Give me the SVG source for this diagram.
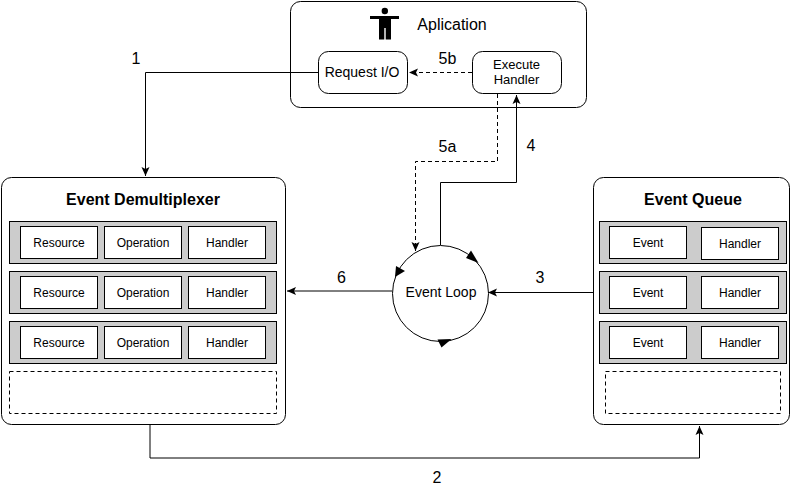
<svg xmlns="http://www.w3.org/2000/svg" width="791" height="492" viewBox="0 0 791 492">
<style>
text{font-family:"Liberation Sans",Arial,Helvetica,sans-serif;fill:#000;text-anchor:middle}
.c{fill:#fff;stroke:#000;stroke-width:1}
.row{fill:#ccc;stroke:#000;stroke-width:1}
.d{fill:#fff;stroke:#000;stroke-width:1;stroke-dasharray:4 3}
.s{font-size:12px}
.e{font-size:13px}
.t{font-size:16px;font-weight:bold}
.n{font-size:16px}
.m{font-size:14px}
.l{fill:none;stroke:#000;stroke-width:1}
.ld{fill:none;stroke:#000;stroke-width:1;stroke-dasharray:4 3}
</style>
<defs>
<marker id="a" markerUnits="userSpaceOnUse" markerWidth="10" markerHeight="10" refX="9" refY="4.500" orient="auto"><path d="M0 0.500L9 4.500L0 8.500L2 4.500Z" fill="#000"/></marker>
</defs>
<g id="application">
<rect class="c" x="290.500" y="1.500" width="296" height="106" rx="10"/>
<circle cx="384.800" cy="11" r="3.200"/>
<path d="M370 16H399V19H391V39.500H385.700V28H384.300V39.500H379V19H370Z"/>
<text class="n" x="452" y="30">Aplication</text>
</g>
<g id="request-io">
<rect class="c" x="318.500" y="51.500" width="89" height="42" rx="10"/>
<text class="m" x="362" y="77">Request I/O</text>
</g>
<g id="execute-handler">
<rect class="c" x="472.500" y="51.500" width="89" height="42" rx="10"/>
<text class="e" x="516.500" y="69">Execute</text>
<text class="e" x="516.500" y="84">Handler</text>
</g>
<g id="event-demultiplexer">
<rect class="c" x="1.500" y="177.500" width="284" height="247" rx="10"/>
<text class="t" x="143" y="205">Event Demultiplexer</text>
<rect class="row" x="9.500" y="221.500" width="267" height="42"/>
<rect class="c" x="20.500" y="226.500" width="77" height="32"/><text class="s" x="59" y="247">Resource</text>
<rect class="c" x="104.500" y="226.500" width="77" height="32"/><text class="s" x="143" y="247">Operation</text>
<rect class="c" x="188.500" y="226.500" width="77" height="32"/><text class="s" x="227" y="247">Handler</text>
<rect class="row" x="9.500" y="271.500" width="267" height="42"/>
<rect class="c" x="20.500" y="276.500" width="77" height="32"/><text class="s" x="59" y="297">Resource</text>
<rect class="c" x="104.500" y="276.500" width="77" height="32"/><text class="s" x="143" y="297">Operation</text>
<rect class="c" x="188.500" y="276.500" width="77" height="32"/><text class="s" x="227" y="297">Handler</text>
<rect class="row" x="9.500" y="321.500" width="267" height="42"/>
<rect class="c" x="20.500" y="326.500" width="77" height="32"/><text class="s" x="59" y="347">Resource</text>
<rect class="c" x="104.500" y="326.500" width="77" height="32"/><text class="s" x="143" y="347">Operation</text>
<rect class="c" x="188.500" y="326.500" width="77" height="32"/><text class="s" x="227" y="347">Handler</text>
<rect class="d" x="9.500" y="371.500" width="267" height="42"/>
</g>
<g id="event-queue">
<rect class="c" x="593.500" y="177.500" width="196" height="247" rx="10"/>
<text class="t" x="693" y="205">Event Queue</text>
<rect class="row" x="599.500" y="221.500" width="187" height="42"/>
<rect class="c" x="609.500" y="226.500" width="77" height="32"/><text class="s" x="648" y="247">Event</text>
<rect class="c" x="701.500" y="227.500" width="77" height="32"/><text class="s" x="740" y="248">Handler</text>
<rect class="row" x="599.500" y="271.500" width="187" height="42"/>
<rect class="c" x="609.500" y="276.500" width="77" height="32"/><text class="s" x="648" y="297">Event</text>
<rect class="c" x="701.500" y="276.500" width="77" height="32"/><text class="s" x="740" y="297">Handler</text>
<rect class="row" x="599.500" y="321.500" width="187" height="42"/>
<rect class="c" x="609.500" y="326.500" width="77" height="32"/><text class="s" x="648" y="347">Event</text>
<rect class="c" x="701.500" y="326.500" width="77" height="32"/><text class="s" x="740" y="347">Handler</text>
<rect class="d" x="605.500" y="371.500" width="175" height="42"/>
</g>
<g id="event-loop">
<circle class="c" cx="440.500" cy="293.500" r="48"/>
<path d="M478.500 263L466 258L471 250.500Z"/>
<path d="M395 277L396 266L405 271Z"/>
<path d="M437.500 339.500L451.500 339L441.500 347.500Z"/>
<text class="m" x="441" y="297">Event Loop</text>
</g>
<g id="connectors">
<path class="l" d="M318 72.500H145.500V176" marker-end="url(#a)"/>
<path class="ld" d="M472 72.500H409" marker-end="url(#a)"/>
<path class="ld" d="M497.500 94V161.500H415.500V251" marker-end="url(#a)"/>
<path class="l" d="M440.500 245V182.500H516.500V95" marker-end="url(#a)"/>
<path class="l" d="M593 292.500H488" marker-end="url(#a)"/>
<path class="l" d="M392 291H287" marker-end="url(#a)"/>
<path class="l" d="M150 425V458H699.500V426" marker-end="url(#a)"/>
</g>
<g id="labels">
<text class="n" x="136" y="64">1</text>
<text class="n" x="437" y="483">2</text>
<text class="n" x="540" y="283">3</text>
<text class="n" x="531" y="151">4</text>
<text class="n" x="447.500" y="152">5a</text>
<text class="n" x="447.500" y="64">5b</text>
<text class="n" x="341.500" y="283">6</text>
</g>
</svg>
